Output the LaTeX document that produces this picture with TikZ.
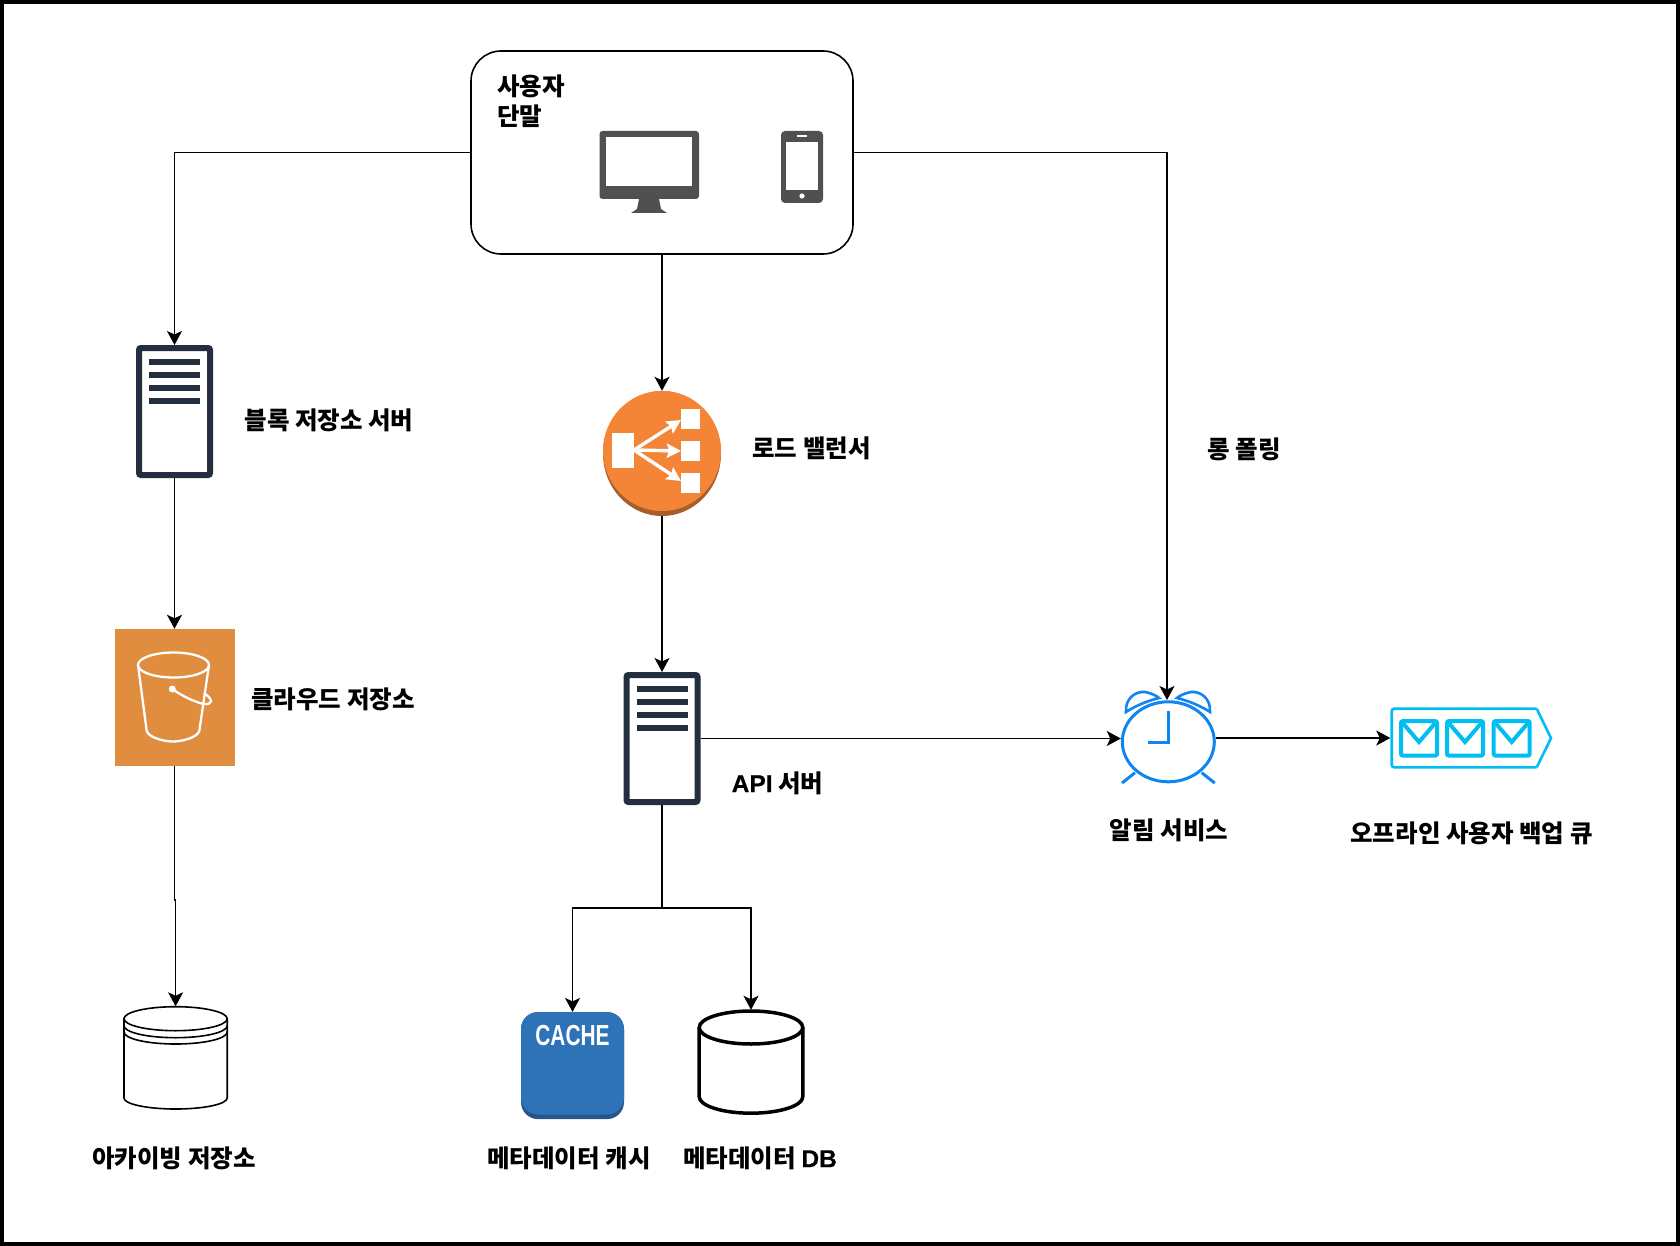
\documentclass[tikz,border=0pt]{standalone}
\usepackage{fontspec}
\usepackage{graphicx}
\setmainfont{Noto Sans CJK KR}
\newfontfamily\latinface{Liberation Sans}
\newfontfamily\latinheavy{Liberation Sans}[UprightFont={* Bold},BoldFont={* Bold},FakeBold=0.5]
\usetikzlibrary{arrows.meta,shapes.geometric}
\definecolor{srvcol}{HTML}{232F3E}
\definecolor{devcol}{HTML}{505050}
\definecolor{lbcol}{HTML}{F58536}
\definecolor{lbdark}{HTML}{A65E2B}
\definecolor{s3col}{HTML}{E08D3F}
\definecolor{cachecol}{HTML}{2E73B8}
\definecolor{cachedark}{HTML}{28548A}
\definecolor{alarmcol}{HTML}{0F85F2}
\definecolor{queuecol}{HTML}{00BEF2}
\tikzset{
  conn/.style={draw=black,line width=1.6pt,-{Stealth[length=14pt,width=15pt,inset=3.5pt]}},
  lbl/.style={font=\fontsize{24.5}{30}\selectfont\bfseries,inner sep=0pt,align=left},
  srvbox/.style={rectangle,draw=srvcol,fill=white,line width=6pt,rounded corners=2pt,minimum width=71pt,minimum height=127pt,inner sep=0pt},
  holder/.style={rectangle,inner sep=0pt,minimum width=#1},
}
\begin{document}
\begin{tikzpicture}[x=1pt,y=-1pt]
\useasboundingbox (0,0) rectangle (1680,1246);
\draw[line width=4pt,fill=white] (2,2) rectangle (1678,1244);

\node[rectangle,draw=black,line width=1.6pt,rounded corners=30pt,minimum width=382pt,minimum height=203pt,inner sep=0pt] (userbox) at (662,152.5) {};
\node[lbl,anchor=west] (userlbl) at (497,101) {사용자\\단말};
\fill[devcol,rounded corners=3pt] (599.5,131) rectangle (699,199);
\fill[white] (606,137) rectangle (692,186);
\fill[devcol] (639,199) -- (659,199) -- (661,209) -- (667,213) -- (631,213) -- (637,209) -- cycle;
\fill[devcol,rounded corners=4pt] (781,131) rectangle (823,203);
\fill[white] (786,142) rectangle (818,190);
\fill[white] (797,135.5) rectangle (807,137);
\fill[white] (802,196) circle (2.6pt);

\foreach \nm/\cx/\cy in {blobsrv/174.5/411.5,apisrv/662/738.5}{
\node[srvbox] (\nm) at (\cx,\cy) {};
\foreach \k in {0,...,3}
\fill[srvcol] (\cx-25.5,\cy-52.5+13*\k) rectangle +(51,6);
}
\node[lbl] (bloblbl) at (329,420) {블록 저장소 서버};
\node[lbl] (apilbl) at (777.5,783) {{\latinheavy API} 서버};

\node[ellipse,fill=lbdark,minimum width=118pt,minimum height=125pt,inner sep=0pt] (lb) at (662,453.5) {};
\fill[lbcol] (662,451) circle[x radius=59pt,y radius=60pt];
\fill[white] (612,433) rectangle (634,468);
\fill[white] (681,409) rectangle (700,429);
\fill[white] (681,441) rectangle (700,461);
\fill[white] (681,473) rectangle (700,493);
\foreach \ty in {420,451,481}
\draw[white,line width=3.4pt,-{Stealth[length=14pt,width=14pt,inset=2pt]}] (634,450) -- (681,\ty);
\node[lbl] (lblbl) at (811.5,448) {로드 밸런서};
\node[lbl] (polllbl) at (1244,449) {롱 폴링};

\node[rectangle,fill=s3col,minimum width=120pt,minimum height=137pt,inner sep=0pt] (s3box) at (174.5,697.5) {};
\begin{scope}[white,line width=2.3pt]
\draw (173.5,665) circle[x radius=35.5pt,y radius=12.5pt];
\draw (138,665) -- (146.7,731) .. controls (149,738) and (165,741.5) .. (173,741.5) .. controls (181,741.5) and (197,738) .. (199.3,731) -- (209,665);
\fill (172.3,689) circle (3.5pt);
\draw (172.3,689) .. controls (182,696) and (193,701) .. (203,704) .. controls (213,705) and (214,700) .. (204,693);
\end{scope}
\node[lbl] (s3lbl) at (333,699) {클라우드 저장소};

\node[holder=104pt,minimum height=103pt] (archive) at (175.6,1058) {};
\draw[line width=1.6pt,fill=white] (124,1018.7) -- (124,1098) arc[start angle=180,end angle=360,x radius=51.6pt,y radius=11pt] -- (227.2,1018.7);
\draw[line width=1.6pt] (175.6,1018.7) circle[x radius=51.6pt,y radius=12pt];
\draw[line width=1.6pt] (124,1025.7) arc[start angle=180,end angle=360,x radius=51.6pt,y radius=12pt];
\draw[line width=1.6pt] (124,1032) arc[start angle=180,end angle=360,x radius=51.6pt,y radius=12pt];
\node[lbl] (archlbl) at (174,1158) {아카이빙 저장소};

\node[rectangle,fill=cachedark,rounded corners=17pt,minimum width=103pt,minimum height=107pt,inner sep=0pt] (cachebox) at (572.5,1065.6) {};
\fill[cachecol,rounded corners=17pt] (521,1012) rectangle (624,1114.5);
\node[text=white,inner sep=0pt,font=\fontsize{29}{29}\selectfont\latinface\bfseries] (cachetxt) at (572.5,1035.5) {\scalebox{0.72}[1]{CACHE}};
\node[lbl] (cachelbl) at (569,1158) {메타데이터 캐시};

\node[holder=104pt,minimum height=104pt] (db) at (751,1062) {};
\draw[line width=3.5pt] (699.2,1027.5) -- (699.2,1096.7) arc[start angle=180,end angle=360,x radius=51.8pt,y radius=16.5pt] -- (802.8,1027.5);
\draw[line width=3.5pt] (751,1027.5) circle[x radius=51.8pt,y radius=16.5pt];
\node[lbl] (dblbl) at (760,1158) {메타데이터 {\latinheavy DB}};

\node[ellipse,draw=alarmcol,line width=3pt,minimum width=92pt,minimum height=80pt,inner sep=0pt] (alarm) at (1168.3,741.8) {};
\coordinate (alarmtop) at (1167,700);
\begin{scope}[alarmcol,line width=2.6pt]
\draw (1126,712) .. controls (1125,698) and (1136,691) .. (1145,692) .. controls (1151,693) and (1157,696) .. (1159,698) .. controls (1147,701) and (1135,706) .. cycle;
\draw (1210,712) .. controls (1211,698) and (1200,691) .. (1191,692) .. controls (1185,693) and (1179,696) .. (1177,698) .. controls (1189,701) and (1201,706) .. cycle;
\draw[line width=3pt] (1168.3,711) -- (1168.3,742) -- (1148,742);
\draw[line width=3pt] (1135,772.7) -- (1122,783);
\draw[line width=3pt] (1201.7,772.7) -- (1214.7,783);
\end{scope}
\node[lbl] (alarmlbl) at (1169,830) {알림 서비스};

\node[holder=161pt,minimum height=60pt] (queue) at (1471,738) {};
\draw[queuecol,line width=2.6pt,rounded corners=2.5pt] (1536.7,708.7) -- (1391.7,708.7) -- (1391.7,767.3) -- (1536.7,767.3);
\draw[queuecol,line width=2.6pt] (1536.7,708.7) -- (1551,738.2) -- (1536.7,767.3);
\foreach \ex in {1399,1445,1491.7}{
\draw[queuecol,line width=4pt,rounded corners=2pt] (\ex+2,721) rectangle (\ex+38,755.7);
\draw[queuecol,line width=4pt] (\ex+2,721) -- (\ex+20,742) -- (\ex+38,721);
}
\node[lbl] (queuelbl) at (1471.5,833) {오프라인 사용자 백업 큐};

\draw[conn] (userbox.west) -| (blobsrv.north);
\draw[conn] (userbox.south) -- (lb.north);
\draw[conn] (userbox.east) -| (alarmtop);
\draw[conn] (blobsrv.south) -- (s3box.north);
\draw[conn] (s3box.south) -- ++(0,134) -| (archive.north);
\draw[conn] (lb.south) -- (apisrv.north);
\draw[conn] (apisrv.east) -- (alarm.west |- apisrv.east);
\draw[conn] (apisrv.south) -- ++(0,103) -| (cachebox.north);
\draw[conn] (apisrv.south) -- ++(0,103) -| (db.north);
\draw[conn] (alarm.east |- queue.west) -- (queue.west);
\end{tikzpicture}
\end{document}
